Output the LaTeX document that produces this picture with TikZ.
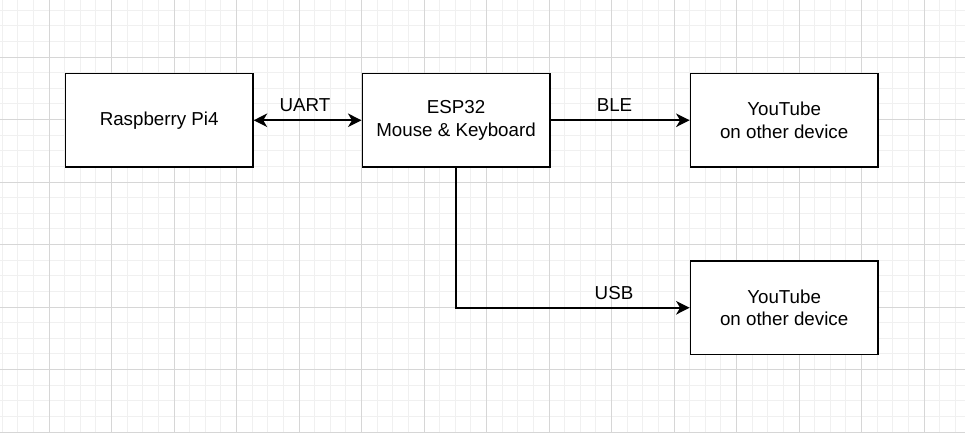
\documentclass[tikz,border=0pt]{standalone}
\usepackage{fontspec}
\setmainfont{Liberation Sans}
\usetikzlibrary{arrows.meta}
\tikzset{
  box/.style={draw=black, line width=1.6pt, fill=white, minimum width=187.5pt, minimum height=93.75pt, inner sep=0pt, align=center, anchor=north west, font=\fontsize{18.75}{22.5}\selectfont},
  conn/.style={line width=1.6pt, draw=black},
  tip/.style={-{Stealth[length=13.5pt,width=13.5pt,inset=4pt]}},
  lbl/.style={font=\fontsize{18.75}{22.5}\selectfont, inner sep=0pt},
  minorgrid/.style={draw=black!6, line width=1pt},
  majorgrid/.style={draw=black!16, line width=1pt}
}
\begin{document}
\begin{tikzpicture}[x=1pt,y=-1pt]
\useasboundingbox (0,0) rectangle (965,432);
\fill[white] (0,0) rectangle (965,432);
% minor grid
\foreach \k in {0,...,61} { \draw[minorgrid] (2.125+15.625*\k,0) -- (2.125+15.625*\k,432); }
\foreach \k in {0,...,27} { \draw[minorgrid] (0,10.125+15.625*\k) -- (965,10.125+15.625*\k); }
% major grid
\foreach \k in {0,...,15} { \draw[majorgrid] (49+62.5*\k,0) -- (49+62.5*\k,432); }
\foreach \k in {0,...,6} { \draw[majorgrid] (0,57+62.5*\k) -- (965,57+62.5*\k); }
% boxes
\node[box] (rpi) at (64.6,72.6) {Raspberry Pi4};
\node[box] (esp) at (361.5,72.6) {ESP32\\Mouse \& Keyboard};
\node[box] (yt1) at (689.6,72.6) {YouTube\\on other device};
\node[box] (yt2) at (689.6,260.1) {YouTube\\on other device};
% connectors
\draw[conn, {Stealth[length=13.5pt,width=13.5pt,inset=4pt]}-{Stealth[length=13.5pt,width=13.5pt,inset=4pt]}] (rpi.east) -- (esp.west);
\draw[conn, tip] (esp.east) -- (yt1.west);
\draw[conn, tip] (esp.south) |- (yt2.west);
% labels
\node[lbl] (uart) at (305,105) {UART};
\node[lbl] (ble) at (614.5,105) {BLE};
\node[lbl] (usb) at (614,293) {USB};
\end{tikzpicture}
\end{document}
